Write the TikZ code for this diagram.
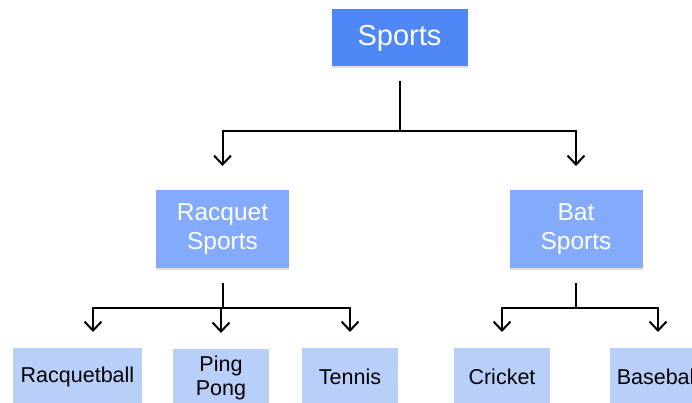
\documentclass[tikz,border=0pt]{standalone}
\usepackage{fontspec}
\setmainfont{Liberation Sans}
\usepackage{tikz}
\usetikzlibrary{positioning}
\usetikzlibrary{arrows.meta}
\usetikzlibrary{shadows}

\definecolor{topblue}{RGB}{79,135,247}
\definecolor{midblue}{RGB}{132,170,252}
\definecolor{leafblue}{RGB}{184,207,249}

\begin{document}
\begin{tikzpicture}[x=1pt,y=1pt,line width=2pt,>={Straight Barb[length=9pt,width=17pt]},
  top node/.style={fill=topblue,text=white,minimum width=136pt,minimum height=57pt,inner sep=0pt,font=\fontsize{29}{33}\selectfont,drop shadow={opacity=0.25,shadow xshift=0pt,shadow yshift=-2pt}},
  mid node/.style={fill=midblue,text=white,minimum width=133pt,minimum height=78pt,inner sep=0pt,align=center,font=\fontsize{24.5}{28.5}\selectfont,drop shadow={opacity=0.25,shadow xshift=0pt,shadow yshift=-2pt}},
  leaf node/.style={fill=leafblue,text=black,minimum width=96pt,minimum height=58pt,inner sep=0pt,align=center,font=\fontsize{21.5}{23.5}\selectfont}]

		\fill[white] (0,0) rectangle (692,-403);
		\useasboundingbox (0,0) rectangle (692,-403);
		\clip (0,0) rectangle (692,-403);

		\node[top node] (sports) at (399.5,-38) {Sports};
		\node[mid node] (racquet) at (222.5,-229) {Racquet\\Sports};
		\node[mid node] (bat) at (576,-229) {Bat\\Sports};

		\node[leaf node,minimum width=129pt] (racquetball) at (77.5,-377) {Racquetball};
		\node[leaf node] (pingpong) at (221,-378) {Ping\\Pong};
		\node[leaf node] (tennis) at (350,-377) {Tennis};
		\node[leaf node] (cricket) at (502,-377) {Cricket};
		\node[leaf node] (baseball) at (658,-377) {Baseball};

		\path (sports.south) ++(0,-64) coordinate (sportsjoin);
		\path (racquet.south) ++(0,-38.5) coordinate (racquetjoin);
		\path (bat.south) ++(0,-38.5) coordinate (batjoin);

		% level one
		\draw[shorten <=14pt] (sports.south) -- (sportsjoin);
		\draw[->,shorten >=23pt] (sportsjoin) -| (racquet.north);
		\draw[->,shorten >=23pt] (sportsjoin) -| (bat.north);

		% level two
		\draw[shorten <=14pt] (racquet.south) -- (racquetjoin);
		\draw[->,shorten >=15pt] (racquetjoin) -| ([xshift=15.5pt]racquetball.north);
		\draw[->,shorten >=15pt] (racquetjoin) -| (pingpong.north);
		\draw[->,shorten >=15pt] (racquetjoin) -| (tennis.north);
		\draw[shorten <=14pt] (bat.south) -- (batjoin);
		\draw[->,shorten >=15pt] (batjoin) -| (cricket.north);
		\draw[->,shorten >=15pt] (batjoin) -| (baseball.north);
	\end{tikzpicture}
\end{document}
